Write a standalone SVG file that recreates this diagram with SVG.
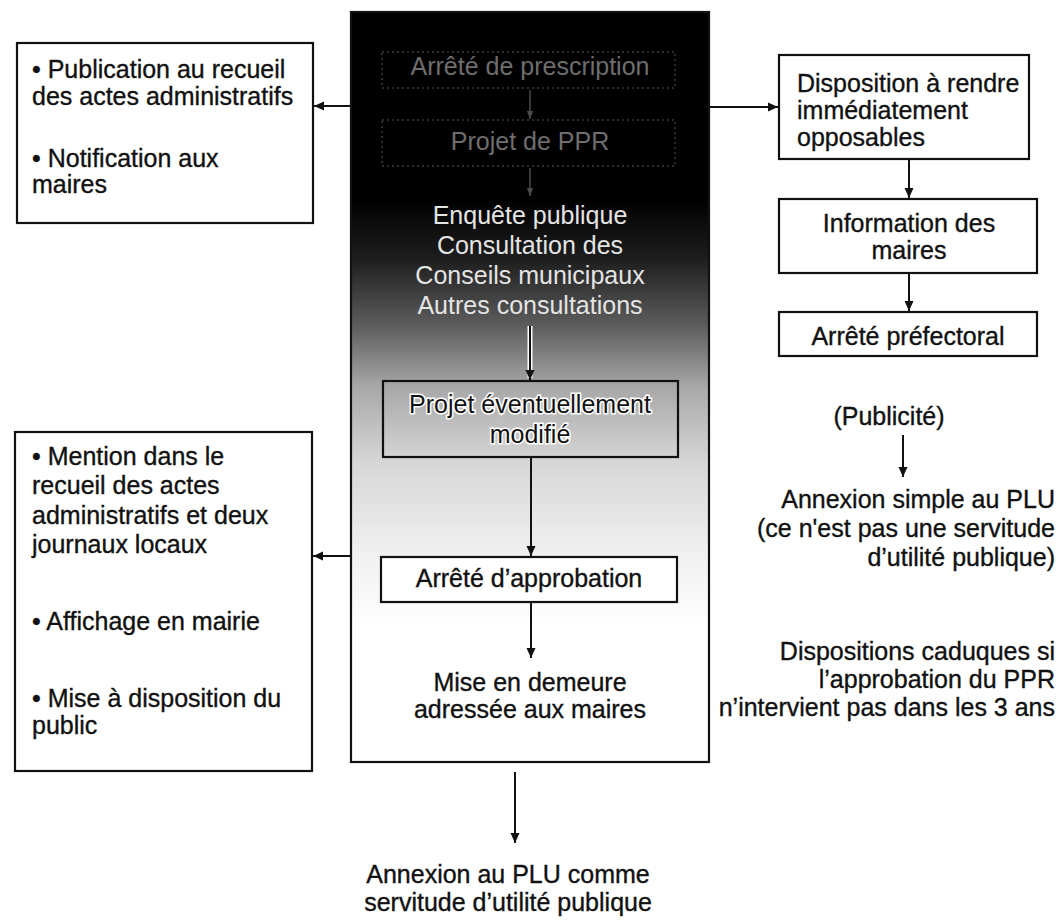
<svg xmlns="http://www.w3.org/2000/svg" width="1061" height="920" viewBox="0 0 1061 920">
  <style>
    .t { font-family: "Liberation Sans", Arial, sans-serif; font-size: 25px; fill: #111; stroke: #111; stroke-width: 0.35px; }
    .c { text-anchor: middle; }
    .e { text-anchor: end; }
    .w { fill: #e4e4e4; stroke: none; }
    .dim { fill: #6e6e6e; stroke: none; }
    .halo { paint-order: stroke; stroke: #fff; stroke-width: 3px; }
    .box { fill: #fff; stroke: #111; stroke-width: 2.2; }
    .ibox { fill: none; stroke: #111; stroke-width: 2.2; }
    .ghost { fill: none; stroke: #3c3c3c; stroke-width: 1.5; stroke-dasharray: 2 3; }
    .ln { fill: none; stroke: #111; stroke-width: 2; }
    .lnd { fill: none; stroke: #4a4a4a; stroke-width: 1.5; }
  </style>
  <defs>
    <linearGradient id="shade" x1="0" y1="12" x2="0" y2="762" gradientUnits="userSpaceOnUse">
      <stop offset="0" stop-color="#000"/>
      <stop offset="0.25" stop-color="#000"/>
      <stop offset="0.33" stop-color="#1e1e1e"/>
      <stop offset="0.42" stop-color="#5e5e5e"/>
      <stop offset="0.5" stop-color="#a8a8a8"/>
      <stop offset="0.6" stop-color="#d6d6d6"/>
      <stop offset="0.72" stop-color="#f0f0f0"/>
      <stop offset="0.82" stop-color="#fff"/>
      <stop offset="1" stop-color="#fff"/>
    </linearGradient>
    <marker id="ah" viewBox="0 0 10 10" refX="10" refY="5" markerWidth="10" markerHeight="10" markerUnits="userSpaceOnUse" orient="auto">
      <path d="M0,0.5 L10,5 L0,9.5 z" fill="#111"/>
    </marker>
    <marker id="ahd" viewBox="0 0 10 10" refX="10" refY="5" markerWidth="8" markerHeight="8" markerUnits="userSpaceOnUse" orient="auto">
      <path d="M0,1 L10,5 L0,9 z" fill="#4a4a4a"/>
    </marker>
  </defs>

  <!-- central column -->
  <g id="central-column">
    <rect x="351" y="12" width="358" height="750" fill="url(#shade)" stroke="#111" stroke-width="2.2"/>
  </g>

  <g id="arrete-prescription">
    <rect class="ghost" x="382" y="52" width="293" height="36"/>
    <text class="t c dim" x="530" y="75">Arrêté de prescription</text>
  </g>

  <g id="projet-ppr">
    <rect class="ghost" x="382" y="120" width="293" height="46"/>
    <text class="t c dim" x="530" y="150">Projet de PPR</text>
  </g>

  <g id="enquete">
    <text class="t c w" x="530" y="224">Enquête publique</text>
    <text class="t c w" x="530" y="254">Consultation des</text>
    <text class="t c w" x="530" y="284">Conseils municipaux</text>
    <text class="t c w" x="530" y="314">Autres consultations</text>
  </g>

  <g id="projet-modifie">
    <rect class="ibox" x="383" y="381" width="295" height="76"/>
    <text class="t c halo" x="530" y="413">Projet éventuellement</text>
    <text class="t c halo" x="530" y="443">modifié</text>
  </g>

  <g id="arrete-approbation">
    <rect class="box" x="381" y="557" width="296" height="45"/>
    <text class="t c" x="529" y="587">Arrêté d’approbation</text>
  </g>

  <g id="mise-en-demeure">
    <text class="t c" x="530" y="691">Mise en demeure</text>
    <text class="t c" x="530" y="718">adressée aux maires</text>
  </g>

  <g id="annexion-plu">
    <text class="t c" x="508" y="883">Annexion au PLU comme</text>
    <text class="t c" x="508" y="911">servitude d’utilité publique</text>
  </g>

  <!-- left boxes -->
  <g id="publication">
    <rect class="box" x="17" y="43" width="296" height="180"/>
    <text class="t" x="32" y="78">• Publication au recueil</text>
    <text class="t" x="32" y="105">des actes administratifs</text>
    <text class="t" x="32" y="167">• Notification aux</text>
    <text class="t" x="32" y="193">maires</text>
  </g>

  <g id="mention">
    <rect class="box" x="15" y="432" width="297" height="339"/>
    <text class="t" x="32" y="465">• Mention dans le</text>
    <text class="t" x="32" y="494">recueil des actes</text>
    <text class="t" x="32" y="524">administratifs et deux</text>
    <text class="t" x="32" y="553">journaux locaux</text>
    <text class="t" x="32" y="630">• Affichage en mairie</text>
    <text class="t" x="32" y="707">• Mise à disposition du</text>
    <text class="t" x="32" y="734">public</text>
  </g>

  <!-- right column -->
  <g id="disposition">
    <rect class="box" x="779" y="55" width="250" height="104"/>
    <text class="t" x="797" y="92">Disposition à rendre</text>
    <text class="t" x="797" y="119">immédiatement</text>
    <text class="t" x="797" y="146">opposables</text>
  </g>

  <g id="information">
    <rect class="box" x="779" y="199" width="258" height="74"/>
    <text class="t c" x="909" y="232">Information des</text>
    <text class="t c" x="909" y="259">maires</text>
  </g>

  <g id="arrete-prefectoral">
    <rect class="box" x="779" y="312" width="258" height="44"/>
    <text class="t c" x="908" y="345">Arrêté préfectoral</text>
  </g>

  <g id="publicite">
    <text class="t c" x="889" y="425">(Publicité)</text>
  </g>

  <g id="annexion-simple">
    <text class="t e" x="1055" y="508">Annexion simple au PLU</text>
    <text class="t e" x="1055" y="537">(ce n'est pas une servitude</text>
    <text class="t e" x="1055" y="566">d’utilité publique)</text>
  </g>

  <g id="dispositions-caduques">
    <text class="t e" x="1055" y="660">Dispositions caduques si</text>
    <text class="t e" x="1055" y="688">l’approbation du PPR</text>
    <text class="t e" x="1055" y="716">n’intervient pas dans les 3 ans</text>
  </g>

  <!-- connectors -->
  <g id="connectors">
    <line class="ln" x1="351" y1="106" x2="314" y2="106" marker-end="url(#ah)"/>
    <line class="ln" x1="709" y1="107" x2="778" y2="107" marker-end="url(#ah)"/>
    <line class="ln" x1="909" y1="159" x2="909" y2="198" marker-end="url(#ah)"/>
    <line class="ln" x1="909" y1="273" x2="909" y2="311" marker-end="url(#ah)"/>
    <line class="lnd" x1="530" y1="90" x2="530" y2="119" marker-end="url(#ahd)"/>
    <line class="lnd" x1="530" y1="168" x2="530" y2="196" marker-end="url(#ahd)"/>
    <line x1="530" y1="326" x2="530" y2="378" stroke="#fff" stroke-width="5"/>
    <line class="ln" x1="530" y1="326" x2="530" y2="380" marker-end="url(#ah)"/>
    <line class="ln" x1="531" y1="457" x2="531" y2="556" marker-end="url(#ah)"/>
    <line class="ln" x1="531" y1="602" x2="531" y2="658" marker-end="url(#ah)"/>
    <line class="ln" x1="351" y1="556" x2="313" y2="556" marker-end="url(#ah)"/>
    <line class="ln" x1="515" y1="772" x2="515" y2="843" marker-end="url(#ah)"/>
    <line class="ln" x1="903" y1="435" x2="903" y2="477" marker-end="url(#ah)"/>
  </g>
</svg>
